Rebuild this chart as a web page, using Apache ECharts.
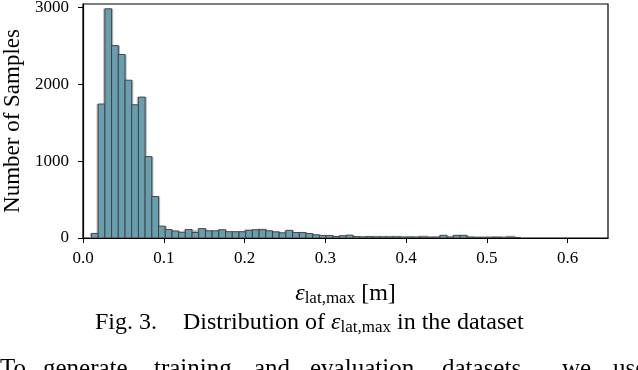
<!DOCTYPE html>
<html>
<head>
<meta charset="utf-8">
<script src="https://cdn.jsdelivr.net/npm/echarts@6/dist/echarts.min.js"></script>
<style>
html,body{margin:0;padding:0;background:#fff;}
#chart{width:638px;height:370px;}
</style>
</head>
<body>
<div id="chart"></div>
<script>
// Histogram definition: first bin edge and bin width (in metres)
const BIN_START = 0.0105;
const BIN_WIDTH = 0.0083;
// Counts per bin (foreground, blue histogram)
const blueCounts = [
  60, 1745, 2985, 2505, 2390, 2055, 1735, 1835, 1060, 540,
  155, 110, 92, 75, 110, 72, 122, 94, 94, 108,
  82, 82, 82, 100, 108, 108, 94, 80, 68, 100,
  72, 72, 58, 42, 33, 33, 20, 30, 38, 18,
  15, 18, 14, 16, 14, 15, 14, 15, 14, 13,
  12, 14, 35, 14, 35, 35, 14, 12, 12, 12,
  10, 10, 12, 8
];
// Counts per bin (background, grey histogram)
const greyCounts = [
  60, 1745, 2985, 2505, 2390, 2055, 1735, 1835, 1060, 540,
  155, 110, 92, 80, 110, 100, 124, 94, 94, 108,
  82, 82, 82, 110, 112, 122, 94, 85, 68, 100,
  72, 72, 58, 42, 33, 33, 20, 30, 38, 25,
  15, 18, 28, 16, 28, 28, 14, 15, 14, 32,
  20, 14, 35, 14, 35, 35, 14, 12, 12, 12,
  25, 10, 30, 8
];
const xTicks = [0.0, 0.1, 0.2, 0.3, 0.4, 0.5, 0.6];
const yTicks = [0, 1000, 2000, 3000];
const X_MAX = 0.65;
const Y_MAX = 3047;

function toBins(counts) {
  return counts.map((c, i) => [BIN_START + i * BIN_WIDTH, BIN_START + (i + 1) * BIN_WIDTH, c]);
}

const FONT = 'Liberation Serif';

function makeRender(pad, fill, stroke, lw) {
  return function (params, api) {
    const x0 = api.value(0), x1 = api.value(1), h = api.value(2);
    const p0 = api.coord([x0 - pad, h]);
    const p1 = api.coord([x1 + pad, 0]);
    return {
      type: 'rect',
      shape: { x: p0[0], y: p0[1], width: p1[0] - p0[0], height: p1[1] - p0[1] },
      style: { fill: fill, stroke: stroke, lineWidth: lw }
    };
  };
}

const chart = echarts.init(document.getElementById('chart'), null, { renderer: 'canvas' });
chart.setOption({
  animation: false,
  backgroundColor: '#fff',
  grid: {
    left: 83, right: 30, top: 4, bottom: 132,
    outerBoundsMode: 'none', containLabel: false,
    show: true, borderColor: '#000', borderWidth: 1.2, backgroundColor: 'transparent'
  },
  xAxis: {
    type: 'value', min: 0, max: X_MAX,
    name: '{e|ε}{s|lat,max}{n| [m]}',
    nameLocation: 'middle', nameGap: 42,
    nameTextStyle: {
      rich: {
        e: { fontFamily: FONT, fontStyle: 'italic', fontSize: 24, color: '#000' },
        s: { fontFamily: FONT, fontSize: 17, color: '#000', padding: [10, 0, 0, 0] },
        n: { fontFamily: FONT, fontSize: 24, color: '#000' }
      }
    },
    axisLine: { show: true, lineStyle: { color: '#000', width: 1.2 } },
    axisTick: { show: true, length: 5, inside: false, lineStyle: { color: '#000', width: 1 }, customValues: xTicks },
    axisLabel: {
      customValues: xTicks, margin: 12,
      fontFamily: FONT, fontSize: 17, color: '#000',
      formatter: v => v.toFixed(1)
    },
    splitLine: { show: false }
  },
  yAxis: {
    type: 'value', min: 0, max: Y_MAX,
    name: 'Number of Samples', nameLocation: 'middle', nameGap: 59, nameRotate: 90,
    nameTextStyle: { fontFamily: FONT, fontSize: 23, color: '#000' },
    axisLine: { show: true, lineStyle: { color: '#000', width: 1.2 } },
    axisTick: { show: true, length: 5, inside: false, lineStyle: { color: '#000', width: 1 }, customValues: yTicks },
    axisLabel: {
      customValues: yTicks, margin: 14,
      fontFamily: FONT, fontSize: 17, color: '#000',
      formatter: v => String(v)
    },
    splitLine: { show: false }
  },
  series: [
    {
      type: 'custom', name: 'grey', clip: true,
      renderItem: makeRender(0.002, '#b6b6b6', null, 0),
      encode: { x: [0, 1], y: 2 },
      data: toBins(greyCounts), z: 1
    },
    {
      type: 'custom', name: 'blue', clip: true,
      renderItem: makeRender(0, '#699eaf', '#3c3c3c', 0.9),
      encode: { x: [0, 1], y: 2 },
      data: toBins(blueCounts), z: 2
    }
  ],
  graphic: [
    {
      type: 'text', left: 95, top: 311,
      style: {
        text: '{a|Fig. 3.}{g| }{a|Distribution of }{e|ε}{s|lat,max}{a| in the dataset}',
        rich: {
          a: { fontFamily: FONT, fontSize: 24, fill: '#000' },
          g: { fontFamily: FONT, fontSize: 24, fill: '#000', width: 26 },
          e: { fontFamily: FONT, fontStyle: 'italic', fontSize: 24, fill: '#000' },
          s: { fontFamily: FONT, fontSize: 17, fill: '#000', padding: [10, 0, 0, 0] }
        }
      }
    },
    { type: 'text', left: 0, top: 357, style: { text: 'To', fontFamily: FONT, fontSize: 25, fill: '#000' } },
    { type: 'text', left: 43, top: 357, style: { text: 'generate', fontFamily: FONT, fontSize: 25, fill: '#000' } },
    { type: 'text', left: 154, top: 357, style: { text: 'training', fontFamily: FONT, fontSize: 25, fill: '#000' } },
    { type: 'text', left: 254, top: 357, style: { text: 'and', fontFamily: FONT, fontSize: 25, fill: '#000' } },
    { type: 'text', left: 310, top: 357, style: { text: 'evaluation', fontFamily: FONT, fontSize: 25, fill: '#000' } },
    { type: 'text', left: 442, top: 357, style: { text: 'datasets,', fontFamily: FONT, fontSize: 25, fill: '#000' } },
    { type: 'text', left: 562, top: 357, style: { text: 'we', fontFamily: FONT, fontSize: 25, fill: '#000' } },
    { type: 'text', left: 613, top: 357, style: { text: 'use', fontFamily: FONT, fontSize: 25, fill: '#000' } }
  ]
});
</script>
</body>
</html>
